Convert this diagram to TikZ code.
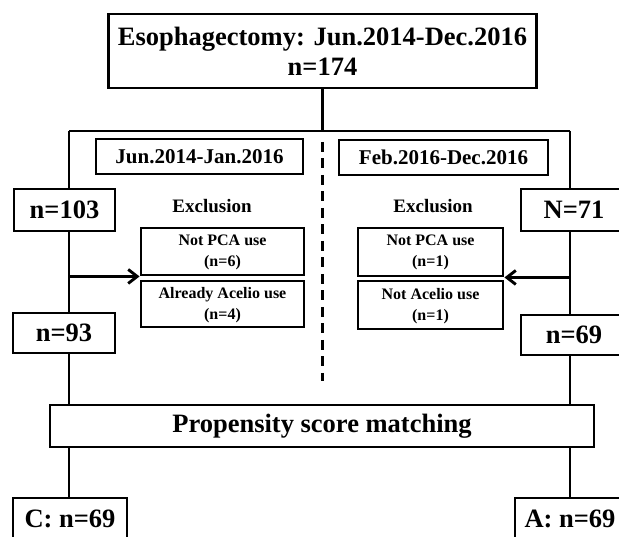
\documentclass[tikz,border=0pt]{standalone}
\usepackage{fontspec}
\setmainfont{Liberation Serif}
\usetikzlibrary{arrows.meta}
\tikzset{
  box/.style={draw, line width=2.9pt, inner sep=0pt, align=center, font=\bfseries},
  big/.style={box, font=\bfseries\fontsize{26.5}{30}\selectfont},
  datebox/.style={box, font=\bfseries\fontsize{21}{24}\selectfont, minimum height=35pt},
  exbox/.style={box, font=\bfseries\fontsize{16}{21}\selectfont},
  lbl/.style={font=\bfseries\fontsize{19}{22}\selectfont, inner sep=0pt},
  conn/.style={line width=2.9pt},
  divider/.style={line width=2.9pt, dash pattern=on 10pt off 6.5pt},
  arr/.style={conn, -{Straight Barb[length=9pt,width=14pt]}}
}
\begin{document}
\begin{tikzpicture}[x=1pt,y=-1pt]
\useasboundingbox (0,0) rectangle (619,537);
\clip (0,0) rectangle (619,537);
\fill[white] (0,0) rectangle (619,537);

\node[big, minimum width=428pt, minimum height=74pt] (top) at (322.5,51) {Esophagectomy: Jun.2014-Dec.2016\\n=174};

\coordinate (jL) at (69,131);
\coordinate (jR) at (570,131);
\coordinate (dS) at (322.5,142);
\coordinate (dE) at (322.5,381);

\node[datebox, minimum width=207pt] (dl) at (199.5,156.5) {Jun.2014-Jan.2016};
\node[datebox, minimum width=209pt] (dr) at (443.5,157.5) {Feb.2016-Dec.2016};

\node[big, minimum width=101pt, minimum height=42pt] (n103) at (64.5,210) {n=103};
\node[big, minimum width=102pt, minimum height=40pt] (n93) at (64,333) {n=93};
\node[big, minimum width=106pt, minimum height=42pt] (N71) at (574,210) {N=71};
\node[big, minimum width=106pt, minimum height=40pt] (n69) at (574,335) {n=69};

\node[lbl] (exL) at (212,206) {Exclusion};
\node[lbl] (exR) at (433,206) {Exclusion};

\node[exbox, minimum width=163pt, minimum height=47pt, text depth=2pt] (npL) at (222.5,251.5) {Not PCA use\\(n=6)};
\node[exbox, minimum width=163pt, minimum height=46pt, text depth=2pt] (acL) at (222.5,304) {Already Acelio use\\(n=4)};
\node[exbox, minimum width=145pt, minimum height=48pt, text depth=2pt] (npR) at (430.5,252) {Not PCA use\\(n=1)};
\node[exbox, minimum width=145pt, minimum height=48pt, text depth=2pt] (naR) at (430.5,305) {Not Acelio use\\(n=1)};

\node[big, minimum width=544pt, minimum height=42pt] (psm) at (322,426) {Propensity score matching};

\node[big, minimum width=114pt, minimum height=42pt] (cb) at (70,519) {C: n=69};
\node[big, minimum width=110pt, minimum height=42pt] (ab) at (570,519) {A: n=69};

\draw[conn] (top.south) -- (top.south |- jL);
\draw[conn] (jL) -- (jR);
\draw[divider] (dS) -- (dE);

\draw[conn] (jL) -- (jL |- n103.north);
\draw[conn] (jL |- n103.south) -- (jL |- n93.north);
\draw[conn] (jL |- n93.south) -- (jL |- psm.north);
\draw[conn] (jL |- psm.south) -- (jL |- cb.north);

\draw[conn] (jR) -- (jR |- N71.north);
\draw[conn] (jR |- N71.south) -- (jR |- n69.north);
\draw[conn] (jR |- n69.south) -- (jR |- psm.north);
\draw[conn] (jR |- psm.south) -- (jR |- ab.north);

\draw[arr] (jL |- npL.south) -- (npL.south west);
\draw[arr] (jR |- npR.south) -- (npR.south east);
\end{tikzpicture}
\end{document}
